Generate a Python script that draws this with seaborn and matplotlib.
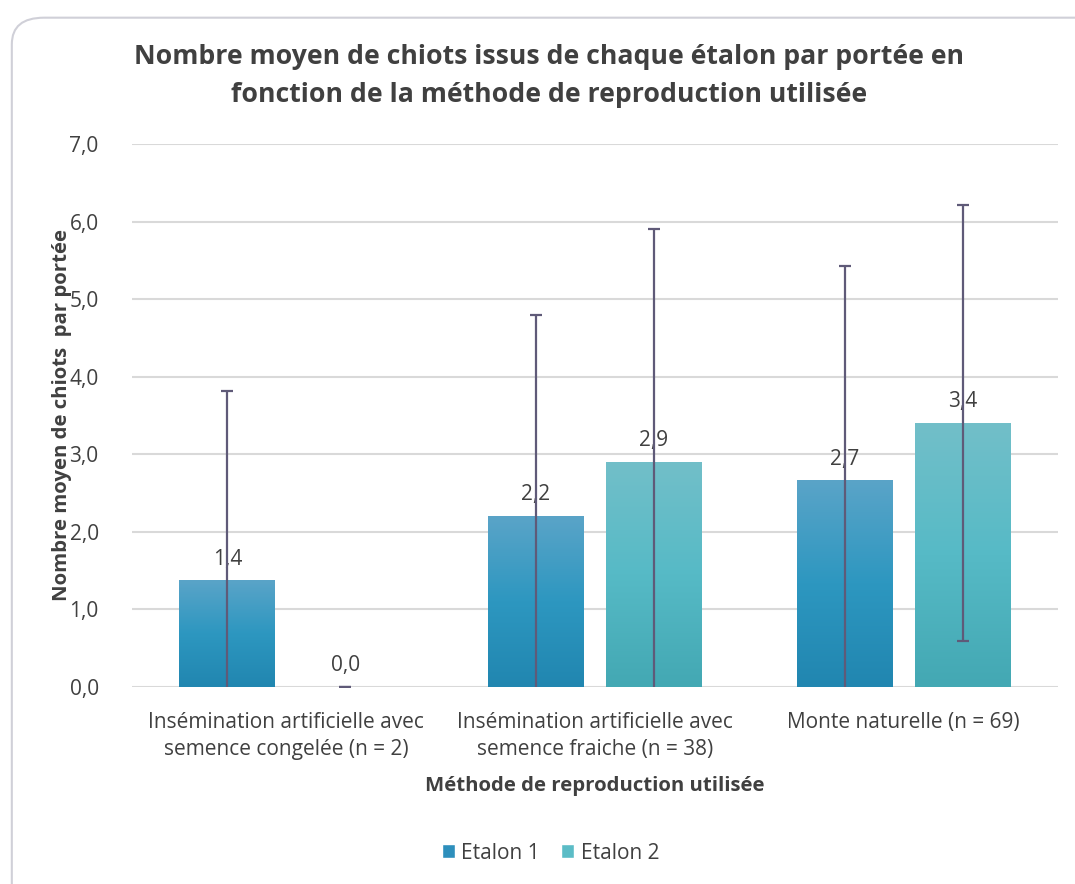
import numpy as np
import pandas as pd
import matplotlib.pyplot as plt
import seaborn as sns
from matplotlib.patches import FancyBboxPatch, Patch
from matplotlib.colors import LinearSegmentedColormap

# ─────────────────────────────────────────
# DATA
# ─────────────────────────────────────────
methods = [
    "Insémination artificielle avec\nsemence congelée (n = 2)",
    "Insémination artificielle avec\nsemence fraiche (n = 38)",
    "Monte naturelle (n = 69)",
]
etalon1_mean = [1.37, 2.20, 2.66]
etalon2_mean = [0.0, 2.90, 3.40]
etalon1_sd = [2.45, 2.60, 2.77]
etalon2_sd = [0.0, 3.00, 2.81]
series = ["Etalon 1", "Etalon 2"]

df = pd.DataFrame({
    "methode": methods * 2,
    "etalon": [series[0]] * 3 + [series[1]] * 3,
    "moyenne": etalon1_mean + etalon2_mean,
    "sd": etalon1_sd + etalon2_sd,
})

# ─────────────────────────────────────────
# STYLE
# ─────────────────────────────────────────
sns.set_theme(style="white")
plt.rcParams["font.family"] = ["Open Sans", "DejaVu Sans"]

textColor = "#404040"
gridColor = "#D9D9D9"
errColor = "#5F5A78"
# gradient colours (top -> bottom) for each series
gradients = {
    "Etalon 1": ["#5AA4C8", "#2D97C0", "#2186B0"],
    "Etalon 2": ["#72BFC9", "#56BAC6", "#43A8B3"],
}
legendColors = {"Etalon 1": "#2D8FBC", "Etalon 2": "#5BBCC6"}

fig = plt.figure(figsize=(10.75, 8.84), dpi=100)
ax = fig.add_axes([0.1228, 0.2229, 0.8614, 0.6142])

# rounded light-grey frame around the chart
frame = FancyBboxPatch((0.011, -0.05), 1.05, 1.03,
                       boxstyle="round,pad=0,rounding_size=0.03",
                       transform=fig.transFigure, facecolor="none",
                       edgecolor="#D0D0D8", linewidth=1.5, zorder=0)
fig.patches.append(frame)

sns.barplot(data=df, x="methode", y="moyenne", hue="etalon",
            hue_order=series, width=0.764, gap=0.186,
            palette=legendColors, errorbar=None, legend=False, ax=ax)

# replace flat fills with vertical gradients + add error bars and labels
for container, name in zip(ax.containers, series):
    cmap = LinearSegmentedColormap.from_list(name, gradients[name][::-1])
    sub = df[df["etalon"] == name]
    for bar, mean, sd in zip(container, sub["moyenne"], sub["sd"]):
        x0, w, h = bar.get_x(), bar.get_width(), bar.get_height()
        xc = x0 + w / 2
        if h > 0:
            grad = np.linspace(1, 0, 256).reshape(-1, 1)
            ax.imshow(grad, cmap=cmap, aspect="auto",
                      extent=[x0, x0 + w, 0, h], origin="upper", zorder=2)
        bar.set_alpha(0)
        ax.errorbar(xc, mean, yerr=sd, fmt="none", ecolor=errColor,
                    elinewidth=1.6, capsize=4.3, capthick=1.6, zorder=4)
        ax.text(xc, mean + 0.14, f"{mean:.1f}".replace(".", ","),
                ha="center", va="bottom", fontsize=15, color=textColor, zorder=3)

ax.set_xlim(-0.5, 2.5)
ax.set_ylim(0, 7)
ax.set_yticks(np.arange(0, 7.01, 1))
ax.set_yticklabels([f"{v:.1f}".replace(".", ",") for v in np.arange(0, 7.01, 1)])
ax.yaxis.grid(True, color=gridColor, linewidth=1.5)
ax.set_axisbelow(True)
for s in ax.spines.values():
    s.set_visible(False)
ax.tick_params(axis="both", length=0, labelsize=15, colors=textColor)
ax.tick_params(axis="x", pad=18)
ax.tick_params(axis="y", pad=24)
for lbl in ax.get_xticklabels():
    lbl.set_linespacing(1.35)

ax.set_xlabel("Méthode de reproduction utilisée", fontsize=14.7, fontweight="bold",
              color=textColor, labelpad=12)
ax.set_ylabel("Nombre moyen de chiots  par portée", fontsize=14.7, fontweight="bold",
              color=textColor, labelpad=-2)

fig.suptitle("Nombre moyen de chiots issus de chaque étalon par portée en\n"
             "fonction de la méthode de reproduction utilisée",
             x=0.511, y=0.95, fontsize=19.2, fontweight="bold", color=textColor,
             linespacing=1.6)

handles = [Patch(facecolor=legendColors[s], label=s) for s in series]
fig.legend(handles=handles, loc="center", bbox_to_anchor=(0.512, 0.035), ncol=2,
           frameon=False, fontsize=15, handlelength=0.65, handleheight=0.65,
           handletextpad=0.3, columnspacing=1.0, labelcolor=textColor)

fig.savefig("out.png", dpi=100, facecolor="white")
